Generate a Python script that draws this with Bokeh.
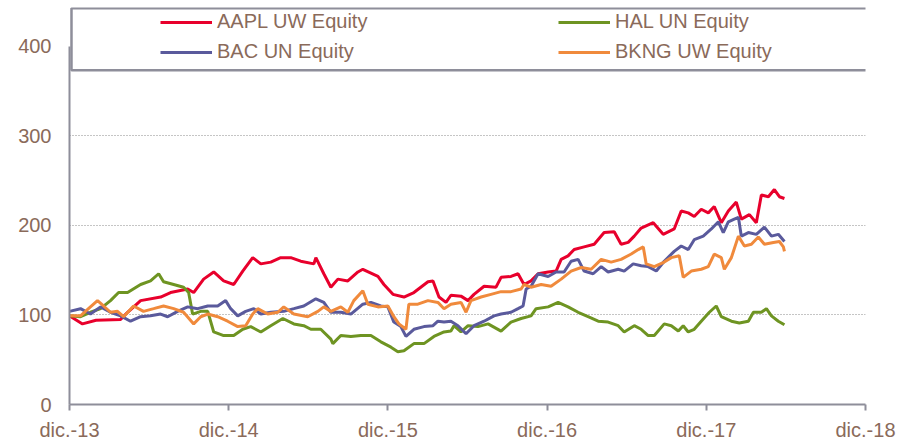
from bokeh.plotting import figure
from bokeh.models import Range1d, FixedTicker, Legend, LegendItem, BoxAnnotation
from bokeh.embed import file_html
from bokeh.resources import INLINE

# months since Dec-2013
x_ticks = [0, 12, 24, 36, 48, 60]
x_labels = ["dic.-13", "dic.-14", "dic.-15", "dic.-16", "dic.-17", "dic.-18"]
y_ticks = [0, 100, 200, 300, 400]

aapl_m = [0, 0.98, 2.0, 3.85, 4.38, 5.36, 6.87, 7.62, 8.91, 9.36, 10.11, 10.87, 11.62, 12.38, 13.06,
          13.81, 14.42, 15.17, 15.92, 16.68, 17.43, 18.42, 18.57, 19.17, 19.70, 20.23, 20.98, 21.74, 22.11,
          23.25, 23.70, 24.38, 25.21, 25.96, 27.02, 27.40, 27.85, 28.38, 28.75, 29.51, 30.04, 30.49, 31.25,
          32.15, 32.53, 33.28, 33.81, 34.26, 34.79, 35.32, 36.08, 36.68, 37.06, 37.58, 38.04, 38.79, 39.55,
          40.30, 41.06, 41.58, 42.11, 42.57, 43.09, 44.00, 44.75, 45.58, 46.11, 46.64, 47.09, 47.62, 48.15,
          48.60, 49.13, 49.66, 50.26, 50.64, 51.25, 51.77, 52.15, 52.68, 53.13, 53.51, 53.89]
aapl_v = [99, 90, 94, 95, 103, 116, 120, 125, 129, 125, 140, 148, 138, 134, 149,
          164, 157, 159, 164, 164, 160, 157, 164, 146, 131, 140, 138, 148, 151,
          143, 134, 123, 120, 125, 137, 138, 120, 114, 122, 121, 116, 123, 132,
          131, 142, 143, 146, 134, 138, 146, 148, 149, 162, 166, 173, 176, 179,
          192, 193, 179, 181, 188, 197, 203, 190, 196, 216, 214, 210, 218, 214,
          221, 203, 216, 226, 207, 212, 203, 234, 232, 240, 232, 230]

hal_m = [0, 0.83, 1.58, 2.34, 3.09, 3.70, 4.38, 5.36, 6.11, 6.72, 7.09, 7.85, 8.60, 8.98, 9.28,
         9.89, 10.42, 10.87, 11.62, 12.38, 13.06, 13.66, 14.42, 15.17, 16.08, 16.91, 17.66, 18.19, 18.94,
         19.70, 19.85, 20.45, 21.21, 21.96, 22.72, 23.47, 24.23, 24.75, 25.21, 25.96, 26.72, 27.47, 28.23,
         28.75, 28.98, 29.51, 30.04, 30.79, 31.55, 32.53, 33.28, 34.04, 34.79, 35.17, 36.08, 36.83, 37.58,
         38.34, 39.09, 39.85, 40.60, 41.36, 41.81, 42.57, 43.09, 43.62, 44.08, 44.83, 45.36, 45.89, 46.26,
         46.64, 47.09, 47.62, 48.23, 48.75, 49.13, 49.89, 50.49, 51.17, 51.55, 52.15, 52.53, 52.91, 53.43, 53.89]
hal_v = [99, 98, 103, 107, 116, 125, 125, 134, 138, 146, 137, 134, 131, 125, 101,
         104, 104, 81, 77, 77, 84, 87, 81, 88, 96, 90, 88, 84, 84,
         73, 68, 77, 76, 77, 77, 70, 64, 59, 60, 68, 68, 76, 81,
         82, 88, 81, 88, 87, 90, 82, 92, 96, 99, 107, 109, 114, 109,
         103, 98, 93, 92, 88, 81, 88, 84, 77, 77, 90, 88, 82, 88,
         81, 84, 93, 103, 110, 98, 93, 91, 93, 103, 103, 107, 99, 93, 89]

bac_m = [0, 0.83, 1.58, 2.34, 3.09, 3.85, 4.60, 5.36, 6.11, 6.87, 7.40, 8.15, 8.91, 9.66, 10.42,
         11.17, 11.77, 12.15, 12.68, 13.28, 13.89, 14.42, 15.17, 16.15, 16.91, 17.66, 18.57, 19.17, 19.70,
         20.45, 21.21, 22.11, 22.72, 23.47, 24.00, 24.45, 24.98, 25.36, 25.96, 26.72, 27.40, 27.77, 28.23,
         28.75, 29.28, 29.89, 30.49, 31.25, 32.00, 32.53, 33.28, 33.81, 34.19, 34.42, 34.79, 35.32, 36.08,
         36.68, 37.28, 37.81, 38.34, 38.79, 39.47, 40.08, 40.60, 41.36, 41.81, 42.49, 43.09, 43.62, 44.23,
         44.83, 45.58, 46.11, 46.64, 47.09, 47.77, 48.38, 48.91, 49.28, 49.66, 50.11, 50.42, 50.64, 51.17,
         51.77, 52.38, 52.91, 53.43, 53.89]
bac_v = [104, 107, 101, 109, 103, 99, 93, 98, 99, 101, 98, 104, 109, 107, 110,
         110, 116, 107, 99, 104, 107, 101, 103, 104, 107, 110, 118, 114, 103,
         103, 101, 112, 114, 110, 109, 92, 87, 76, 84, 87, 88, 93, 92,
         93, 88, 79, 88, 93, 99, 101, 103, 107, 110, 129, 132, 146, 143,
         148, 148, 160, 162, 149, 146, 154, 148, 151, 149, 157, 155, 154, 149,
         160, 171, 177, 173, 184, 188, 196, 204, 192, 204, 207, 209, 188, 192,
         190, 198, 188, 190, 182]

bkng_m = [0, 0.83, 1.43, 2.11, 2.57, 3.09, 3.62, 4.08, 4.83, 5.58, 6.34, 7.09, 7.85, 8.60, 9.36,
          9.89, 10.42, 11.17, 11.92, 12.68, 13.28, 13.81, 14.19, 14.94, 15.70, 16.15, 16.91, 17.96, 18.72,
          19.17, 19.70, 20.45, 20.98, 21.43, 22.11, 22.49, 23.25, 24.00, 24.45, 24.83, 25.36, 25.58, 26.26,
          27.02, 27.77, 28.23, 28.75, 29.51, 29.89, 30.26, 31.02, 31.77, 32.53, 33.28, 34.04, 34.26, 34.79,
          35.55, 36.30, 37.06, 37.81, 38.57, 39.32, 40.08, 40.83, 41.58, 42.34, 42.87, 43.25, 43.47, 44.08,
          44.83, 45.36, 45.96, 46.26, 46.87, 47.62, 48.15, 48.60, 49.13, 49.36, 49.89, 50.42, 50.87, 51.40,
          51.92, 52.38, 53.06, 53.51, 53.81, 53.89]
bkng_v = [99, 99, 107, 116, 110, 103, 104, 98, 110, 104, 107, 110, 107, 103, 90,
          98, 101, 98, 93, 87, 88, 101, 107, 101, 103, 109, 101, 98, 104,
          109, 104, 109, 103, 116, 127, 112, 109, 110, 98, 90, 84, 112, 112,
          116, 114, 107, 112, 114, 103, 116, 120, 123, 126, 126, 129, 134, 131,
          134, 132, 140, 149, 153, 151, 162, 159, 162, 168, 173, 176, 157, 154,
          159, 164, 166, 142, 149, 151, 154, 168, 164, 151, 164, 188, 177, 179,
          187, 179, 181, 182, 176, 171]

names = ["AAPL UW Equity", "HAL UN Equity", "BAC UN Equity", "BKNG UW Equity"]
colors = ["#E8002C", "#6E9422", "#5A5A9C", "#F08A3C"]

TEXT = "#8A6A5A"
AXIS = "#8E8E9A"
FONT = "Liberation Sans"

p = figure(width=902, height=443, output_backend="svg", toolbar_location=None,
           x_range=Range1d(0, 60), y_range=Range1d(0, 443.3),
           min_border_left=69, min_border_right=37, min_border_top=7, min_border_bottom=37)
p.outline_line_color = None
p.background_fill_color = "white"
p.border_fill_color = "white"

series = [(aapl_m, aapl_v), (hal_m, hal_v), (bac_m, bac_v), (bkng_m, bkng_v)]
renderers = []
for (m, v), c in zip(series, colors):
    r = p.line(m, v, line_color=c, line_width=3)
    renderers.append(r)

# axes
p.xaxis.ticker = FixedTicker(ticks=x_ticks)
p.xaxis.major_label_overrides = {t: l for t, l in zip(x_ticks, x_labels)}
p.yaxis.ticker = FixedTicker(ticks=y_ticks)
p.yaxis.bounds = (0, 400)
for ax in (p.xaxis[0], p.yaxis[0]):
    ax.axis_line_color = AXIS
    ax.axis_line_width = 2
    ax.major_tick_line_color = AXIS
    ax.major_tick_line_width = 2
    ax.minor_tick_line_color = None
    ax.major_tick_in = 0
    ax.major_label_text_color = TEXT
    ax.major_label_text_font = FONT
    ax.major_label_text_font_size = "20px"
p.xaxis.major_tick_out = 6
p.xaxis.major_label_standoff = 8
p.yaxis.major_tick_out = 0
p.yaxis.major_label_standoff = 18

p.xgrid.grid_line_color = None
p.ygrid.ticker = FixedTicker(ticks=[100, 200, 300])
p.ygrid.grid_line_color = "#8A8A8A"
p.ygrid.grid_line_dash = "1 2"
p.ygrid.grid_line_width = 1

# legend frame
box = BoxAnnotation(left=0.15, right=60.3, bottom=373.3, top=442.5,
                    fill_color="white", fill_alpha=1.0,
                    line_color=AXIS, line_alpha=1.0, line_width=2.5)
p.add_layout(box)


def make_legend(items, loc):
    lg = Legend(items=items, location=loc, orientation="vertical",
                padding=6, spacing=7, margin=0,
                glyph_width=52, glyph_height=20, label_height=20,
                label_standoff=5, label_text_font=FONT,
                label_text_font_size="20px", label_text_color=TEXT,
                border_line_alpha=0, background_fill_alpha=0)
    return lg


lg1 = make_legend([LegendItem(label=names[0], renderers=[renderers[0]]),
                   LegendItem(label=names[2], renderers=[renderers[2]])], (85, 335))
lg2 = make_legend([LegendItem(label=names[1], renderers=[renderers[1]]),
                   LegendItem(label=names[3], renderers=[renderers[3]])], (483, 335))
p.add_layout(lg1)
p.add_layout(lg2)

open("out.html", "w").write(file_html(p, INLINE))
